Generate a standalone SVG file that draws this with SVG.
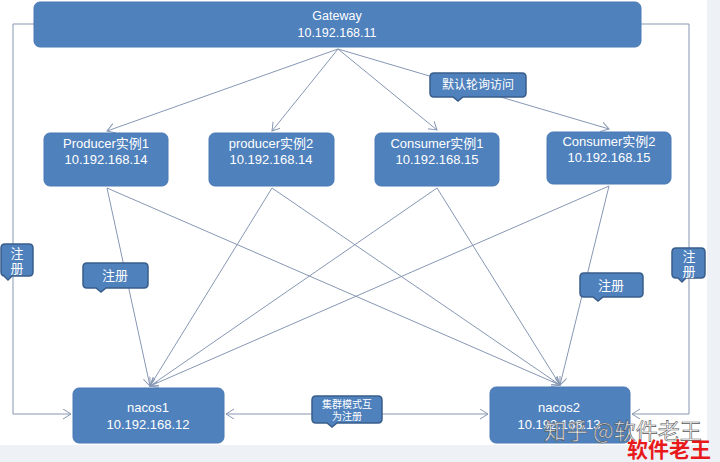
<svg xmlns="http://www.w3.org/2000/svg" width="720" height="462" viewBox="0 0 720 462">
<style>
.node{fill:#4f81bd;stroke:#4a7ab5;stroke-width:1}
.callout{fill:#4f81bd;stroke:#385d8a;stroke-width:1.5}
.t{font-family:"Liberation Sans","Noto Sans CJK SC",sans-serif;fill:#ffffff;text-anchor:middle}
.c{fill:none;stroke:#8797b3;stroke-width:1}
</style>
<defs>
<marker id="arr" markerUnits="userSpaceOnUse" markerWidth="12" markerHeight="12" refX="8" refY="5" orient="auto-start-reverse">
<path d="M0,0 L8,5 L0,10" fill="none" stroke="#8797b3" stroke-width="1"/>
</marker>
</defs>
<rect x="0" y="0" width="720" height="462" fill="#ffffff"/>
<rect x="707" y="0" width="13" height="462" fill="#eef1f6"/>
<rect x="0" y="445" width="720" height="17" fill="#eef1f6"/>
<g id="connectors">
<polyline class="c" points="34,24 13,24 13,414 71,414" marker-end="url(#arr)"/>
<polyline class="c" points="641,24 689,24 689,414 632,414" marker-end="url(#arr)"/>
<line class="c" x1="338" y1="49" x2="107" y2="131" marker-end="url(#arr)"/>
<line class="c" x1="338" y1="49" x2="272" y2="131" marker-end="url(#arr)"/>
<line class="c" x1="338" y1="49" x2="437" y2="130" marker-end="url(#arr)"/>
<line class="c" x1="338" y1="49" x2="609" y2="129" marker-end="url(#arr)"/>
<line class="c" x1="107" y1="188" x2="150" y2="386" marker-end="url(#arr)"/>
<line class="c" x1="272" y1="188" x2="150" y2="386" marker-end="url(#arr)"/>
<line class="c" x1="437" y1="188" x2="150" y2="386" marker-end="url(#arr)"/>
<line class="c" x1="609" y1="186" x2="150" y2="386" marker-end="url(#arr)"/>
<line class="c" x1="107" y1="188" x2="560" y2="385" marker-end="url(#arr)"/>
<line class="c" x1="272" y1="188" x2="560" y2="385" marker-end="url(#arr)"/>
<line class="c" x1="437" y1="188" x2="560" y2="385" marker-end="url(#arr)"/>
<line class="c" x1="609" y1="186" x2="560" y2="385" marker-end="url(#arr)"/>
<line class="c" x1="226" y1="414" x2="488" y2="414" marker-start="url(#arr)" marker-end="url(#arr)"/>
</g>
<g id="gateway">
<rect class="node" x="34" y="2" width="607" height="45" rx="6"/>
<text class="t" x="337" y="20" font-size="12.5">Gateway</text>
<text class="t" x="337" y="37" font-size="12.5">10.192.168.11</text>
</g>
<g id="producer1">
<rect class="node" x="44" y="133" width="124" height="53" rx="6"/>
<text class="t" x="106" y="148" font-size="13">Producer实例1</text>
<text class="t" x="106" y="164" font-size="13">10.192.168.14</text>
</g>
<g id="producer2">
<rect class="node" x="209" y="133" width="125" height="53" rx="6"/>
<text class="t" x="271" y="148" font-size="13">producer实例2</text>
<text class="t" x="271" y="164" font-size="13">10.192.168.14</text>
</g>
<g id="consumer1">
<rect class="node" x="375" y="133" width="124" height="53" rx="6"/>
<text class="t" x="437" y="148" font-size="13">Consumer实例1</text>
<text class="t" x="437" y="164" font-size="13">10.192.168.15</text>
</g>
<g id="consumer2">
<rect class="node" x="547" y="132" width="124" height="52" rx="6"/>
<text class="t" x="609" y="146" font-size="13">Consumer实例2</text>
<text class="t" x="609" y="162" font-size="13">10.192.168.15</text>
</g>
<g id="nacos1">
<rect class="node" x="73" y="388" width="151" height="55" rx="6"/>
<text class="t" x="148" y="412" font-size="13">nacos1</text>
<text class="t" x="148" y="429" font-size="13">10.192.168.12</text>
</g>
<g id="nacos2">
<rect class="node" x="490" y="387" width="140" height="56" rx="6"/>
<text class="t" x="559" y="412" font-size="13">nacos2</text>
<text class="t" x="559" y="429" font-size="13">10.192.168.13</text>
</g>
<g id="callout-poll">
<path class="callout" d="M434,73 H522 Q526,73 526,77 V93 Q526,97 522,97 H463 L458,101 L453,97 H434 Q430,97 430,93 V77 Q430,73 434,73 Z"/>
<text class="t" x="478" y="89" font-size="12">默认轮询访问</text>
</g>
<g id="callout-reg-left">
<path class="callout" d="M5,244 H29 Q33,244 33,248 V272 Q33,276 29,276 H12 L8,280 L4,276 H5 Q1,276 1,272 V248 Q1,244 5,244 Z"/>
<text class="t" x="17" y="258" font-size="13">注</text>
<text class="t" x="17" y="273" font-size="13">册</text>
</g>
<g id="callout-reg-1">
<path class="callout" d="M87,263 H144 Q148,263 148,267 V284 Q148,288 144,288 H106 L101,292 L96,288 H87 Q83,288 83,284 V267 Q83,263 87,263 Z"/>
<text class="t" x="115" y="280" font-size="13">注册</text>
</g>
<g id="callout-reg-2">
<path class="callout" d="M584,273 H639 Q643,273 643,277 V293 Q643,297 639,297 H603 L598,301 L593,297 H584 Q580,297 580,293 V277 Q580,273 584,273 Z"/>
<text class="t" x="611" y="290" font-size="13">注册</text>
</g>
<g id="callout-reg-right">
<path class="callout" d="M676,248 H701 Q705,248 705,252 V274 Q705,278 701,278 H686 L682,282 L678,278 H676 Q672,278 672,274 V252 Q672,248 676,248 Z"/>
<text class="t" x="689" y="261" font-size="13">注</text>
<text class="t" x="689" y="276" font-size="13">册</text>
</g>
<g id="callout-cluster">
<path class="callout" d="M316,396 H378 Q382,396 382,400 V419 Q382,423 378,423 H337 L332,427 L327,423 H316 Q312,423 312,419 V400 Q312,396 316,396 Z"/>
<text class="t" x="347" y="408" font-size="10">集群模式互</text>
<text class="t" x="347" y="420" font-size="10">为注册</text>
</g>
<g id="watermark">
<text x="544" y="439" font-family="'Noto Sans CJK SC',sans-serif" font-size="22" fill="#ffffff" fill-opacity="0.85" stroke="#555555" stroke-width="0.6">知乎 @软件老王</text>
<text x="627" y="457" font-family="'Noto Sans CJK SC',sans-serif" font-size="21" font-weight="bold" fill="#e8191b">软件老王</text>
</g>
</svg>
